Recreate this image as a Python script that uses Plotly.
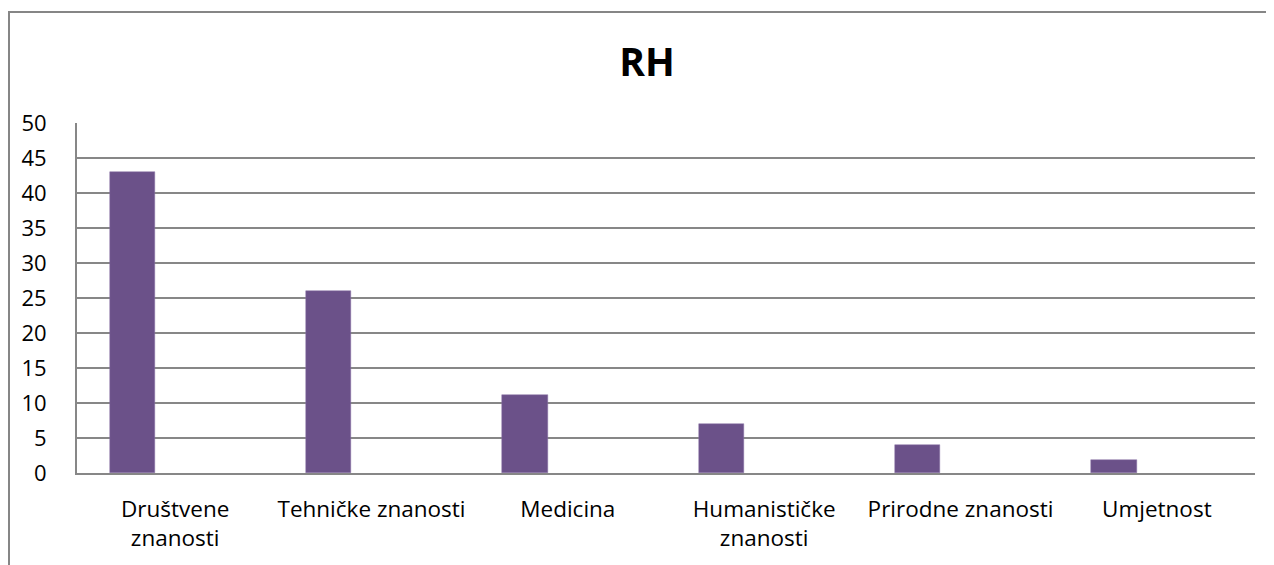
import plotly.graph_objects as go

categories = ["Društvene<br>znanosti", "Tehničke znanosti", "Medicina",
              "Humanističke<br>znanosti", "Prirodne znanosti", "Umjetnost"]
values = [43, 26, 11.1, 7, 4, 1.9]
title_text = "RH"

# page offset (default body margin of the html page)
OFF = 8
VW, VH = 1274, 565
# plot area in page pixels
PL, PR, PT, PB = 77, 1255, 123, 473

FW, FH = VW - OFF, VH - OFF
ml, mt = PL - OFF, PT - OFF
mr = FW - (PR - OFF)
mb = FH - (PB - OFF)
pw, ph = PR - PL, PB - PT

def px_x(p):
    return (p - PL) / pw

def px_y(p):
    return (PB - p) / ph

fig = go.Figure()
fig.add_trace(go.Bar(
    x=categories, y=values,
    marker=dict(color="#6B5189", line=dict(color="#8A74A6", width=0.5)),
    width=0.23, offset=-0.333,
))

grid = "#878787"
fnt = "Open Sans, Lato, sans-serif"
fig.update_layout(
    width=FW, height=FH,
    margin=dict(l=ml, r=mr, t=mt, b=mb, pad=0),
    paper_bgcolor="white", plot_bgcolor="white",
    showlegend=False,
    font=dict(family=fnt, color="#000000", size=20),
    title=dict(text="<b>" + title_text + "</b>", x=(647 - OFF) / FW,
               xanchor="center", y=1 - (62.5 - OFF) / FH, yanchor="middle",
               font=dict(size=39, family=fnt, color="#000")),
    bargap=0,
    xaxis=dict(type="category", range=[-0.5, 5.5], showgrid=False,
               showline=True, linecolor=grid, linewidth=2, ticks="",
               ticklabelstandoff=15, tickfont=dict(size=22.5)),
    yaxis=dict(range=[0, 50], dtick=5, showgrid=True, gridcolor=grid, gridwidth=1.5,
               showline=True, linecolor=grid, linewidth=2, ticks="",
               ticklabelstandoff=24, zeroline=False, tickfont=dict(size=22)),
    shapes=[dict(type="rect", xref="paper", yref="paper",
                 x0=px_x(9), x1=px_x(1400), y0=px_y(700), y1=px_y(12),
                 line=dict(color="#868686", width=2), fillcolor="rgba(0,0,0,0)",
                 layer="below")],
)

fig.write_html("out.html")
